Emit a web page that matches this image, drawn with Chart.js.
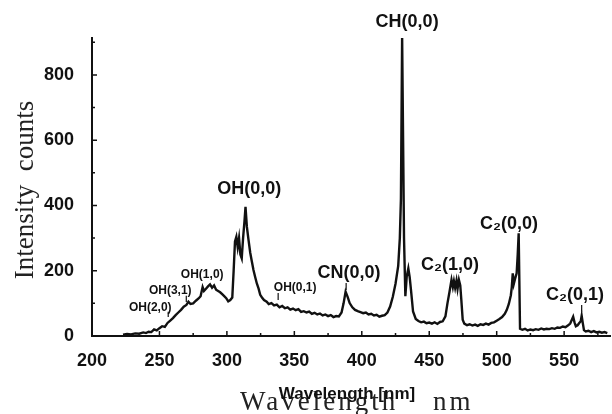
<!DOCTYPE html>
<html>
<head>
<meta charset="utf-8">
<script src="https://cdn.jsdelivr.net/npm/chart.js@4.4.1/dist/chart.umd.min.js"></script>
<style>
  html, body { margin: 0; padding: 0; background: #fff; }
  #wrap { width: 612px; height: 414px; }
</style>
</head>
<body>
<div id="wrap"><canvas id="spectrum" width="612" height="414"></canvas></div>
<script>
// emission spectrum, wavelength in nm
const wavelengths = [
  223, 226, 229, 232, 235, 238, 240, 242, 244, 246, 248, 250, 252, 254, 256, 258, 260, 262, 264, 266,
  268, 270, 271.5, 273, 275, 277, 279, 280.5, 282, 283, 284.5, 286, 287.5, 289, 290.5, 292, 293.5, 295,
  296.5, 298, 299.5, 301, 302.5, 304, 305, 306, 307, 308, 309, 310, 311, 312, 313, 313.8, 314.8, 316,
  317.3, 318.5, 319.7, 321, 322.2, 323.5, 324.7, 326, 327.5, 329.5, 331, 333, 335, 337, 339, 341, 343,
  345, 347, 349, 351, 353, 355, 357, 359, 361, 363, 365, 367, 369, 371, 373, 375, 377, 379, 381, 383,
  385, 386.5, 388, 389.5, 391, 393, 395, 397, 399, 401, 403, 405, 407, 409, 411, 413, 415, 417, 419,
  421, 423, 425, 427, 428.2, 429, 429.9, 430.8, 431.3, 432.3, 433.3, 434.5, 435.5, 436.5, 438, 440,
  442, 444, 446, 448, 450, 452, 454, 456, 458, 460, 462, 463.5, 465, 466.5, 467.5, 468.3, 469.2, 470.2,
  471, 472, 473, 473.8, 474.8, 476, 478, 480, 482, 484, 486, 488, 490, 492, 494, 496, 498, 500, 502,
  504, 506, 507.5, 509, 510.5, 511.2, 511.9, 512.7, 513.6, 514.8, 515.6, 516.3, 517.3, 519, 521, 523,
  525, 527, 529, 531, 533, 535, 537, 539, 541, 543, 545, 547, 549, 551, 553, 554.5, 556.7, 557.7,
  558.7, 560, 561.2, 562.3, 563, 563.8, 564.7, 566, 568, 570, 572, 574, 576, 578, 580, 582
];
const intensity = [
  4, 6, 5, 8, 7, 11, 9, 13, 12, 20, 17, 24, 30, 28, 40, 47, 55, 64, 72, 80,
  90, 95, 105, 98, 100, 108, 115, 122, 150, 138, 145, 152, 158, 148, 155, 142, 138, 134,
  128, 122, 116, 106, 110, 118, 200, 290, 304, 272, 300, 250, 238, 300, 350, 396, 335, 295,
  255, 228, 202, 180, 161, 145, 126, 118, 110, 105, 98, 101, 94, 96, 88, 92, 85,
  88, 81, 84, 79, 82, 74, 76, 72, 75, 68, 71, 66, 69, 63, 66, 61, 64, 58, 61, 60,
  72, 100, 136, 120, 101, 88, 80, 76, 73, 70, 72, 66, 68, 63, 65, 59, 62, 64, 72,
  90, 120, 160, 215, 300, 420, 917, 520, 300, 122, 182, 207, 180, 140, 75, 52,
  46, 42, 44, 39, 41, 38, 42, 37, 43, 45, 60, 100, 135, 172, 150, 168, 148, 170,
  145, 172, 155, 110, 50, 38, 33, 36, 32, 35, 31, 36, 34, 38, 35, 40, 42, 47, 52,
  58, 68, 80, 98, 125, 150, 192, 160, 175, 192, 250, 315, 22, 19, 22, 17,
  20, 18, 21, 19, 23, 20, 22, 21, 24, 22, 26, 25, 29, 27, 33, 38, 59, 42,
  30, 33, 40, 45, 62, 40, 18, 14, 16, 12, 15, 11, 13, 10, 12, 9
];

const xMajorTicks = [200, 250, 300, 350, 400, 450, 500, 550];
const xMinorTicks = [225, 275, 325, 375, 425, 475, 525, 575];
const yMajorTicks = [0, 200, 400, 600, 800];
const yMinorTicks = [100, 300, 500, 700, 900];

// band labels: text, wavelength and intensity of the label centre
const bandNames = ["OH(2,0)", "OH(3,1)", "OH(1,0)", "OH(0,0)", "OH(0,1)", "CN(0,0)", "CH(0,0)", "C\u2082(1,0)", "C\u2082(0,0)", "C\u2082(0,1)"];
const bandAtNm  = [243.2, 258, 281.7, 316.5, 350.6, 390.6, 433.6, 465.4, 509.1, 558];
const bandAtI   = [86, 138, 187, 450, 147, 193, 962, 218, 343, 126];
const bandBig   = [false, false, false, true, false, true, true, true, true, true];
// small marker strokes under some labels: wavelength, from, to
const markNm   = [256.5, 269.9, 338, 388.4, 563];
const markFrom = [58, 104, 110, 141, 74];
const markTo   = [74, 123, 132, 162, 95];

const overlay = {
  id: 'overlay',
  afterDraw(chart) {
    const { ctx, scales: { x, y } } = chart;
    ctx.save();
    ctx.strokeStyle = '#111';
    ctx.lineWidth = 1.5;
    ctx.beginPath();
    xMajorTicks.forEach(v => { const p = x.getPixelForValue(v); ctx.moveTo(p, y.bottom); ctx.lineTo(p, y.bottom - 5); });
    xMinorTicks.forEach(v => { const p = x.getPixelForValue(v); ctx.moveTo(p, y.bottom); ctx.lineTo(p, y.bottom - 3); });
    yMajorTicks.forEach(v => { const p = y.getPixelForValue(v); ctx.moveTo(x.left, p); ctx.lineTo(x.left + 5, p); });
    yMinorTicks.forEach(v => { const p = y.getPixelForValue(v); ctx.moveTo(x.left, p); ctx.lineTo(x.left + 3, p); });
    ctx.stroke();

    // marker strokes
    ctx.lineWidth = 1.2;
    ctx.beginPath();
    markNm.forEach((nm, i) => {
      const p = x.getPixelForValue(nm);
      ctx.moveTo(p, y.getPixelForValue(markFrom[i]));
      ctx.lineTo(p, y.getPixelForValue(markTo[i]));
    });
    ctx.stroke();

    // band labels
    ctx.fillStyle = '#111';
    ctx.textAlign = 'center';
    ctx.textBaseline = 'middle';
    bandNames.forEach((t, i) => {
      ctx.font = bandBig[i] ? 'bold 18px "Liberation Sans", Arial, sans-serif' : 'bold 12px "Liberation Sans", Arial, sans-serif';
      ctx.fillText(t, x.getPixelForValue(bandAtNm[i]), y.getPixelForValue(bandAtI[i]));
    });

    // serif axis captions
    ctx.fillStyle = '#222';
    ctx.font = '27px "Liberation Serif", "Times New Roman", serif';
    ctx.textBaseline = 'alphabetic';
    ctx.textAlign = 'left';
    ctx.letterSpacing = '3px';
    ctx.fillText('Wavelength', 240, 410);
    ctx.fillText('nm', 433, 410);
    ctx.letterSpacing = '0px';
    ctx.save();
    ctx.translate(33, 190);
    ctx.rotate(-Math.PI / 2);
    ctx.textAlign = 'center';
    ctx.fillText('Intensity  counts', 0, 0);
    ctx.restore();

    // sans caption on top
    ctx.fillStyle = '#111';
    ctx.font = 'bold 17px "Liberation Sans", Arial, sans-serif';
    ctx.textAlign = 'center';
    ctx.textBaseline = 'middle';
    ctx.fillText('Wavelength [nm]', 347, 394);
    ctx.restore();
  }
};

new Chart(document.getElementById('spectrum').getContext('2d'), {
  type: 'line',
  data: {
    datasets: [{
      data: wavelengths.map((w, i) => ({ x: w, y: intensity[i] })),
      borderColor: '#111',
      borderWidth: 2.4,
      pointRadius: 0,
      tension: 0,
      fill: false
    }]
  },
  options: {
    responsive: false,
    animation: false,
    devicePixelRatio: 1,
    layout: { padding: { top: 38, right: 2, left: 0, bottom: 0 } },
    plugins: { legend: { display: false }, tooltip: { enabled: false } },
    scales: {
      x: {
        type: 'linear',
        min: 200,
        max: 584,
        grid: { display: false },
        border: { display: true, color: '#111', width: 2 },
        afterBuildTicks: s => { s.ticks = xMajorTicks.map(value => ({ value })); },
        afterFit: s => { s.height = 78; },
        ticks: {
          padding: 6,
          maxRotation: 0,
          color: '#111',
          font: { family: '"Liberation Sans", Arial, sans-serif', weight: 'bold', size: 18 }
        }
      },
      y: {
        min: 0,
        max: 913,
        grid: { display: false },
        border: { display: true, color: '#111', width: 2 },
        afterBuildTicks: s => { s.ticks = yMajorTicks.map(value => ({ value })); },
        afterFit: s => { s.width = 92; },
        ticks: {
          padding: 10,
          color: '#111',
          font: { family: '"Liberation Sans", Arial, sans-serif', weight: 'bold', size: 18 }
        }
      }
    }
  },
  plugins: [overlay]
});
</script>
</body>
</html>
